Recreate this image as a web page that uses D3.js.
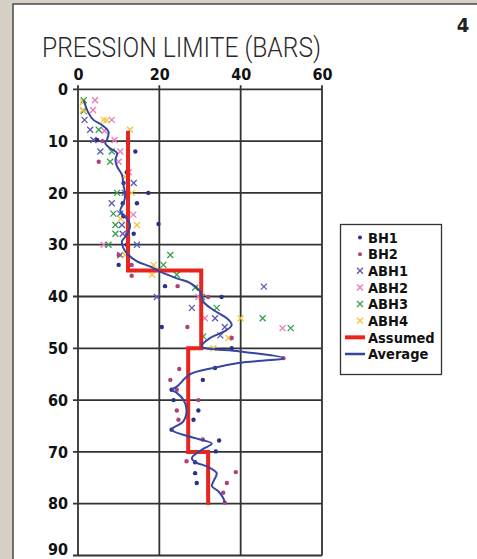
<!DOCTYPE html>
<html><head><meta charset="utf-8">
<script src="https://cdn.jsdelivr.net/npm/d3@7"></script>
<style>
html,body{margin:0;padding:0;background:#d6d0c4;}
svg{display:block;}
.cb{font-family:'DejaVu Sans Condensed','DejaVu Sans',sans-serif;font-stretch:condensed;font-weight:bold;}
</style></head>
<body>
<svg id="c" width="477" height="559"></svg>
<script>
// ---- data ----
const xTicks = [0, 20, 40, 60];
const yTicks = [0, 10, 20, 30, 40, 50, 60, 70, 80, 90];
const seriesNames = ["BH1", "BH2", "ABH1", "ABH2", "ABH3", "ABH4", "Assumed", "Average"];

const bh1 = [[4.7,9.8],[14.1,12],[12,16],[11.2,18.1],[17.3,20],[14.5,22],[11,22],[11.2,24.5],[19.8,26],[13.7,27.9],[12,30],[10,33.9],[21.4,38],[35.3,40.1],[20.6,45.9],[37.8,50],[33.7,53.8],[30.7,56.1],[23,58],[23.5,60],[29.6,62],[28.4,63.8],[23,65.7],[34.7,67.8],[33.9,69.9],[28.8,72],[28.8,74.1],[29.2,76]];
const bh2 = [[6,10],[5.1,14],[12,20],[12,28],[10,32],[13.2,33.9],[13.2,36],[24.5,38],[32,40.1],[26.9,45.9],[37.8,48],[50.5,51.9],[24.9,54],[22.7,56.1],[24.3,58],[29.6,60],[24.3,62],[24.7,63.8],[30.7,67.6],[26.7,71.8],[38.8,73.9],[36.6,76],[35.7,77.9],[36.1,79.8]];
const abh1 = [[1.6,5.9],[3,7.8],[3.8,9.8],[5.5,12],[13.7,18.1],[11.5,20],[8.3,22],[10.4,24],[10.8,26.2],[11,27.9],[14.5,30],[10.4,32],[45.7,38.1],[19.4,40.1],[28,42.2],[33.7,44.2],[36.1,45.9],[35,47.5]];
const abh2 = [[4.2,2.1],[3.7,4],[8.3,5.9],[6.5,8],[9,9.8],[10.4,12],[10,14],[12.5,16],[13.6,24.2],[6.3,30],[29.6,40.1],[31.2,44.2],[50.3,46.1]];
const abh3 = [[1.4,2.1],[1.4,4.2],[5.1,7.8],[8.3,12],[7.9,14],[9.6,20],[8.7,24],[9.2,26.2],[9.2,27.9],[7.5,30],[22.7,32],[21,33.9],[24.3,35.8],[28.8,38.3],[30.5,40.1],[34.1,42.2],[45.4,44.2],[52.3,46.1],[30.8,47.7]];
const abh4 = [[1.2,2.5],[1.2,4],[6.3,5.9],[7,6],[12.8,7.8],[11.6,16.9],[13.2,20],[10.5,25],[14.5,26.2],[11.6,32],[18.6,33.9],[18.2,35.8],[40,44.2],[37,48],[33.3,50]];
const assumed = [[12.3,8],[12.3,35],[30.3,35],[30.3,50],[27.1,50],[27.1,70],[32,70],[32,80.2]];
const average = [[1.4,2.1],[2.6,4.6],[3.8,5.9],[5.9,6.9],[7.5,8.2],[7.1,9.8],[6.7,10.4],[7.9,11.4],[9.6,12.3],[9.2,13.6],[9.6,14.9],[10.8,16.5],[11.2,18.5],[11.6,20.4],[11.2,22],[10.4,23.4],[11.6,24.6],[12.8,26.2],[12,28.1],[10.8,29.4],[11.2,30.7],[12.4,32],[14.5,33.2],[17.7,34.2],[20.2,35.2],[24.3,36.5],[27.6,37.4],[30,39],[30.8,41],[33.3,42.6],[36.6,44.2],[37.8,45.5],[36.1,46.7],[32.5,48],[30.4,49.6],[39.8,50.6],[50.5,51.9],[39.8,52.8],[33.3,53.8],[27.6,55],[24.3,57.4],[23,58],[24.3,58.6],[25.9,59.9],[26.7,61.9],[25.9,64.1],[23,65.7],[25.9,66.7],[30,67.6],[32.9,68.4],[30.4,69.6],[28,71.2],[29.2,72.1],[31.7,72.8],[34.1,74.1],[33.3,75.7],[32.9,76.6],[34.5,77.6],[35.7,78.9],[36.1,79.8]];

// ---- layout ----
const svg = d3.select("#c");
const x = d3.scaleLinear().domain([0, 60]).range([78, 322]);
const y = d3.scaleLinear().domain([0, 90]).range([89.3, 555.5]);

const colors = {BH1:"#27318c", BH2:"#b0407a", ABH1:"#5a5ab4", ABH2:"#ec78bc", ABH3:"#35a04c", ABH4:"#f4c43c", Assumed:"#e8241c", Average:"#3546a0"};

// panel
svg.append("rect").attr("x", 13).attr("y", 4).attr("width", 477).attr("height", 570)
  .attr("fill", "#fff").attr("stroke", "#4a4a4a").attr("stroke-width", 1.5);

// title
svg.append("text").attr("x", 42).attr("y", 57).text("PRESSION LIMITE (BARS)")
  .attr("font-family", "Roboto,'DejaVu Sans Condensed',sans-serif").attr("font-weight", 300)
  .attr("font-size", 28).attr("fill", "#2a2a2a").attr("textLength", 279).attr("lengthAdjust", "spacingAndGlyphs");
svg.append("text").attr("class", "cb").attr("x", 463).attr("y", 32).attr("text-anchor", "middle").text("4")
  .attr("font-size", 20).attr("fill", "#222");

// grid
const g = svg.append("g");
g.selectAll("line.h").data(yTicks).join("line")
  .attr("x1", x(0) - 5).attr("x2", x(60)).attr("y1", d => y(d)).attr("y2", d => y(d))
  .attr("stroke", "#333").attr("stroke-width", 1.8);
g.selectAll("line.v").data(xTicks).join("line")
  .attr("y1", y(0) - 4).attr("y2", y(90)).attr("x1", d => x(d)).attr("x2", d => x(d))
  .attr("stroke", "#333").attr("stroke-width", 1.8);

// axes labels
const xAxis = d3.axisTop(x).tickValues(xTicks).tickSize(0).tickPadding(9);
const ga = svg.append("g").attr("transform", `translate(0,${y(0)})`).call(xAxis);
ga.select(".domain").remove();
ga.selectAll("text").attr("class", "cb").attr("font-size", 16).attr("fill", "#111");
const yAxis = d3.axisLeft(y).tickValues(yTicks).tickSize(0).tickPadding(10);
const gy = svg.append("g").attr("transform", `translate(${x(0)},0)`).call(yAxis);
gy.select(".domain").remove();
gy.selectAll("text").attr("class", "cb").attr("font-size", 16).attr("fill", "#111");
gy.selectAll("text").filter(d => d === 90).attr("y", -6);

// marks
const line = d3.line().x(d => x(d[0])).y(d => y(d[1]));
function dots(data, c) {
  svg.append("g").selectAll("circle").data(data).join("circle")
    .attr("cx", d => x(d[0])).attr("cy", d => y(d[1])).attr("r", 2.2).attr("fill", c);
}
function crosses(data, c) {
  const s = 3;
  svg.append("g").selectAll("path").data(data).join("path")
    .attr("d", d => { const cx = x(d[0]), cy = y(d[1]); return `M${cx-s},${cy-s}L${cx+s},${cy+s}M${cx-s},${cy+s}L${cx+s},${cy-s}`; })
    .attr("stroke", c).attr("stroke-width", 1.3).attr("fill", "none");
}
crosses(abh1, colors.ABH1);
crosses(abh2, colors.ABH2);
crosses(abh3, colors.ABH3);
crosses(abh4, colors.ABH4);
dots(bh1, colors.BH1);
dots(bh2, colors.BH2);

svg.append("path").datum(assumed).attr("d", line).attr("fill", "none")
  .attr("stroke", colors.Assumed).attr("stroke-width", 4);
svg.append("path").datum(average).attr("d", line.curve(d3.curveCatmullRom.alpha(0.5))).attr("fill", "none")
  .attr("stroke", colors.Average).attr("stroke-width", 2);

// legend
const lg = svg.append("g");
lg.append("rect").attr("x", 340.5).attr("y", 224.5).attr("width", 101).attr("height", 150)
  .attr("fill", "#fff").attr("stroke", "#333").attr("stroke-width", 1.3);
const ly = d3.scalePoint().domain(seriesNames).range([237.5, 354]);
seriesNames.forEach(n => {
  const cy = ly(n), c = colors[n];
  if (n === "BH1" || n === "BH2") {
    lg.append("circle").attr("cx", 360).attr("cy", cy).attr("r", 2).attr("fill", c);
  } else if (n === "Assumed" || n === "Average") {
    lg.append("line").attr("x1", 345).attr("x2", 365).attr("y1", cy).attr("y2", cy)
      .attr("stroke", c).attr("stroke-width", n === "Assumed" ? 4 : 2.5);
  } else {
    const s = 3;
    lg.append("path").attr("d", `M${360-s},${cy-s}L${360+s},${cy+s}M${360-s},${cy+s}L${360+s},${cy-s}`)
      .attr("stroke", c).attr("stroke-width", 1.3);
  }
  lg.append("text").attr("class", "cb").attr("x", 368).attr("y", cy).attr("dy", "0.36em").text(n)
    .attr("font-size", 14.5).attr("fill", "#111");
});
</script>
</body></html>
